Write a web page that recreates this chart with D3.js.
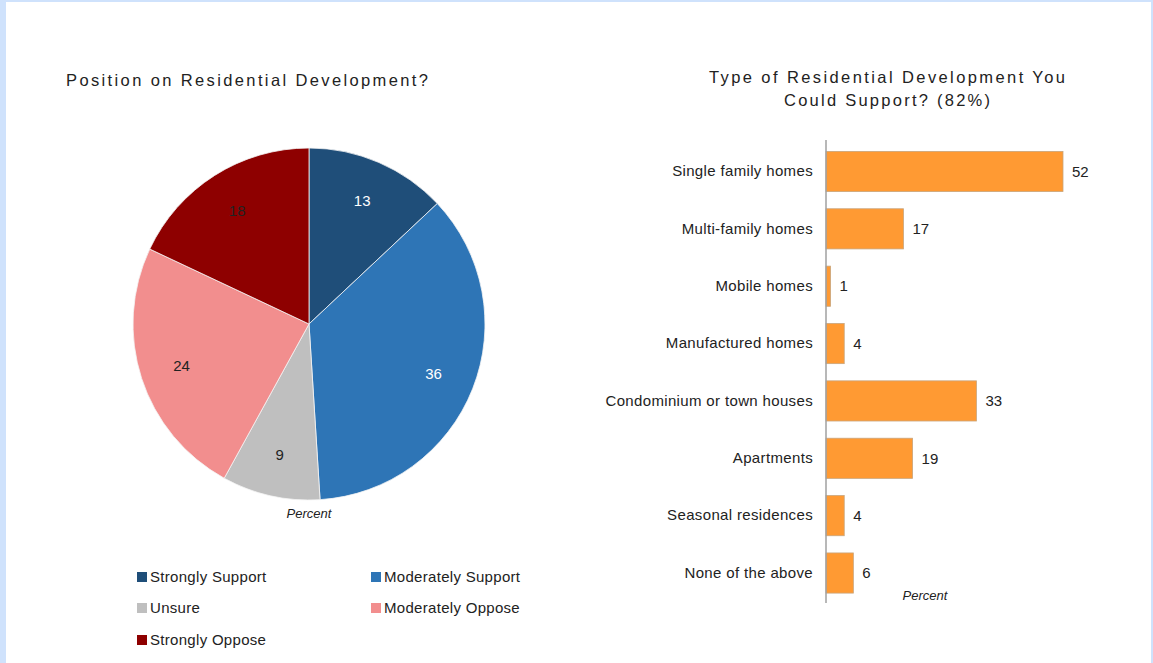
<!DOCTYPE html>
<html>
<head>
<meta charset="utf-8">
<script src="https://cdn.jsdelivr.net/npm/d3@7"></script>
<style>
  html, body { margin: 0; padding: 0; background: #fff; }
  svg { display: block; }
  text { font-family: "Liberation Sans", Arial, sans-serif; fill: #222; }
</style>
</head>
<body>
<svg id="chart" width="1153" height="663"></svg>
<script>
// Survey: position on residential development (percent)
const positionLabels = ["Strongly Support", "Moderately Support", "Unsure", "Moderately Oppose", "Strongly Oppose"];
const positionValues = [13, 36, 9, 24, 18];
const positionColors = ["#1f4e79", "#2e75b6", "#bfbfbf", "#f28e8e", "#8e0000"];
const positionLabelColors = ["#fff", "#fff", "#222", "#222", "#222"];

// Survey: type of residential development respondents could support (percent)
const typeLabels = ["Single family homes", "Multi-family homes", "Mobile homes", "Manufactured homes",
  "Condominium or town houses", "Apartments", "Seasonal residences", "None of the above"];
const typeValues = [52, 17, 1, 4, 33, 19, 4, 6];

const svg = d3.select("#chart");
const W = 1153, H = 663;

// page frame
svg.append("rect").attr("width", W).attr("height", H).attr("fill", "#cfe2fc");
svg.append("rect").attr("x", 6).attr("y", 2).attr("width", W - 8).attr("height", H - 2).attr("fill", "#fff");

// ---------- Pie ----------
svg.append("text")
  .attr("x", 66).attr("y", 86)
  .attr("font-size", 16.5)
  .attr("textLength", 362).attr("lengthAdjust", "spacing")
  .text("Position on Residential Development?");

const pieData = positionLabels.map((l, i) => ({ label: l, value: positionValues[i], color: positionColors[i], tc: positionLabelColors[i] }));
const pie = d3.pie().sort(null).value(d => d.value);
const R = 176;
const arc = d3.arc().innerRadius(0).outerRadius(R);
const labelArc = d3.arc().innerRadius(134).outerRadius(134);

const pg = svg.append("g").attr("transform", "translate(309,324)");
const arcs = pie(pieData);
pg.selectAll("path").data(arcs).join("path")
  .attr("d", arc)
  .attr("fill", d => d.data.color)
  .attr("stroke", "#f4f4f4")
  .attr("stroke-width", 0.8);

pg.selectAll("text.val").data(arcs).join("text")
  .attr("class", "val")
  .attr("transform", d => `translate(${labelArc.centroid(d)})`)
  .attr("text-anchor", "middle")
  .attr("dy", "0.35em")
  .attr("font-size", 15)
  .style("fill", d => d.data.tc)
  .text(d => d.data.value);

svg.append("text")
  .attr("x", 309).attr("y", 518)
  .attr("text-anchor", "middle")
  .attr("font-size", 13)
  .attr("font-style", "italic")
  .text("Percent");

// legend
const legendPos = [[137, 577], [371, 577], [137, 608], [371, 608], [137, 640]];
const lg = svg.append("g");
pieData.forEach((d, i) => {
  const [x, y] = legendPos[i];
  lg.append("rect").attr("x", x).attr("y", y - 5).attr("width", 10).attr("height", 10).attr("fill", d.color);
  lg.append("text").attr("x", x + 13).attr("y", y).attr("dy", "0.35em")
    .attr("font-size", 15).style("letter-spacing", "0.3px").text(d.label);
});

// ---------- Bars ----------
const title2 = svg.append("text").attr("text-anchor", "middle").attr("font-size", 16.5);
title2.append("tspan").attr("x", 887).attr("y", 83)
  .attr("textLength", 356).attr("lengthAdjust", "spacing")
  .text("Type of Residential Development You");
title2.append("tspan").attr("x", 887).attr("y", 106)
  .attr("textLength", 206).attr("lengthAdjust", "spacing")
  .text("Could Support? (82%)");

const x0 = 826;
const x = d3.scaleLinear().domain([0, 52]).range([x0, 1063]);
const y = d3.scaleBand().domain(typeLabels).range([142.8, 601.7]).paddingInner(0.3).paddingOuter(0.15);

const bg = svg.append("g");
bg.selectAll("rect").data(typeLabels).join("rect")
  .attr("x", x(0))
  .attr("y", d => y(d))
  .attr("width", (d, i) => x(typeValues[i]) - x(0))
  .attr("height", y.bandwidth())
  .attr("fill", "#ff9a33")
  .attr("stroke", "#c9a57c")
  .attr("stroke-width", 0.8);

bg.selectAll("text.v").data(typeLabels).join("text")
  .attr("class", "v")
  .attr("x", (d, i) => x(typeValues[i]) + 9)
  .attr("y", d => y(d) + y.bandwidth() / 2)
  .attr("dy", "0.35em")
  .attr("font-size", 15)
  .text((d, i) => typeValues[i]);

// category axis
const yAxis = d3.axisLeft(y).tickSize(0).tickPadding(13);
const ag = svg.append("g").attr("transform", `translate(${x0},0)`).call(yAxis);
ag.select(".domain").remove();
ag.selectAll("text")
  .attr("font-size", 15)
  .attr("font-family", "Liberation Sans, Arial, sans-serif")
  .style("letter-spacing", "0.35px")
  .style("fill", "#222");
svg.append("line")
  .attr("x1", x0).attr("x2", x0).attr("y1", 140).attr("y2", 603)
  .attr("stroke", "#a0a0a0").attr("stroke-width", 1.5);

svg.append("text")
  .attr("x", 925).attr("y", 600)
  .attr("text-anchor", "middle")
  .attr("font-size", 13)
  .attr("font-style", "italic")
  .text("Percent");
</script>
</body>
</html>
